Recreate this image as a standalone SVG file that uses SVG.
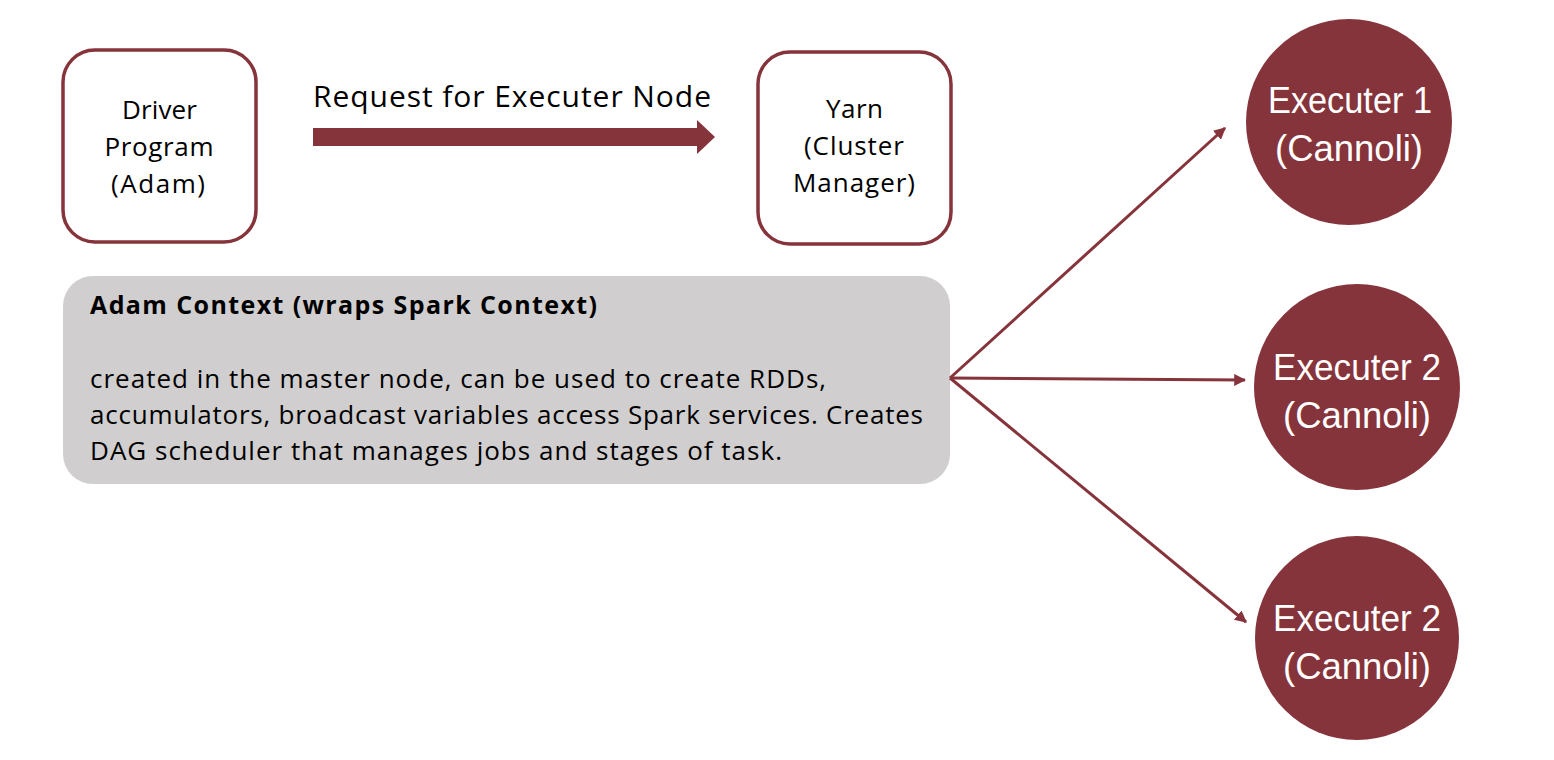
<svg xmlns="http://www.w3.org/2000/svg" width="1554" height="760" viewBox="0 0 1554 760">
<style>
.box{fill:#fff;stroke:#86343B;stroke-width:3.5}
.t{font-family:"Open Sans","Liberation Sans",sans-serif;fill:#000}
.c{font-size:26px;text-anchor:middle}
.w{font-family:"Liberation Sans","Open Sans",sans-serif;fill:#fff;font-size:36px;text-anchor:middle}
.exec{fill:#86343B}
.ln{stroke:#86343B;stroke-width:3;fill:none;marker-end:url(#ah)}
</style>
<defs>
<marker id="ah" viewBox="0 0 10 10" refX="9" refY="5" markerWidth="4" markerHeight="4" orient="auto" markerUnits="strokeWidth">
<path d="M0,0 L10,5 L0,10 Z" fill="#86343B"/>
</marker>
</defs>
<rect width="1554" height="760" fill="#fff"/>
<g id="driver">
<rect class="box" x="63" y="50" width="193" height="192" rx="32"/>
<text class="t c" x="159.5" y="119" textLength="75">Driver</text>
<text class="t c" x="159" y="156" textLength="109">Program</text>
<text class="t c" x="158" y="193" textLength="94">(Adam)</text>
</g>
<g id="yarn">
<rect class="box" x="758" y="52" width="193" height="192" rx="32"/>
<text class="t c" x="854.5" y="118" textLength="57">Yarn</text>
<text class="t c" x="854" y="155" textLength="100">(Cluster</text>
<text class="t c" x="854" y="192" textLength="122">Manager)</text>
</g>
<g id="context">
<rect x="63" y="276" width="887" height="208" rx="30" fill="#D0CECE"/>
<text class="t" x="90" y="314" font-size="25" font-weight="bold" textLength="507">Adam Context (wraps Spark Context)</text>
<text class="t" x="90" y="388" font-size="26" textLength="736">created in the master node, can be used to create RDDs,</text>
<text class="t" x="90" y="424" font-size="26" textLength="833">accumulators, broadcast variables access Spark services. Creates</text>
<text class="t" x="90" y="460" font-size="26" textLength="692">DAG scheduler that manages jobs and stages of task.</text>
</g>
<g id="exec1">
<circle class="exec" cx="1349" cy="122" r="103"/>
<text class="w" x="1350" y="113" textLength="164" lengthAdjust="spacingAndGlyphs">Executer 1</text>
<text class="w" x="1349" y="161" textLength="148" lengthAdjust="spacingAndGlyphs">(Cannoli)</text>
</g>
<g id="exec2">
<circle class="exec" cx="1357" cy="387" r="103"/>
<text class="w" x="1357" y="380" textLength="168" lengthAdjust="spacingAndGlyphs">Executer 2</text>
<text class="w" x="1357" y="428" textLength="148" lengthAdjust="spacingAndGlyphs">(Cannoli)</text>
</g>
<g id="exec3">
<circle class="exec" cx="1357" cy="638" r="102"/>
<text class="w" x="1357" y="631" textLength="168" lengthAdjust="spacingAndGlyphs">Executer 2</text>
<text class="w" x="1357" y="679" textLength="148" lengthAdjust="spacingAndGlyphs">(Cannoli)</text>
</g>
<g id="connectors">
<text class="t" x="313" y="107" font-size="30" textLength="398">Request for Executer Node</text>
<path d="M313,128 H697 V120 L715,137 L697,154 V146 H313 Z" fill="#86343B"/>
<line class="ln" x1="950" y1="378" x2="1225" y2="128"/>
<line class="ln" x1="950" y1="378" x2="1245" y2="380"/>
<line class="ln" x1="950" y1="378" x2="1246" y2="622"/>
</g>
</svg>
